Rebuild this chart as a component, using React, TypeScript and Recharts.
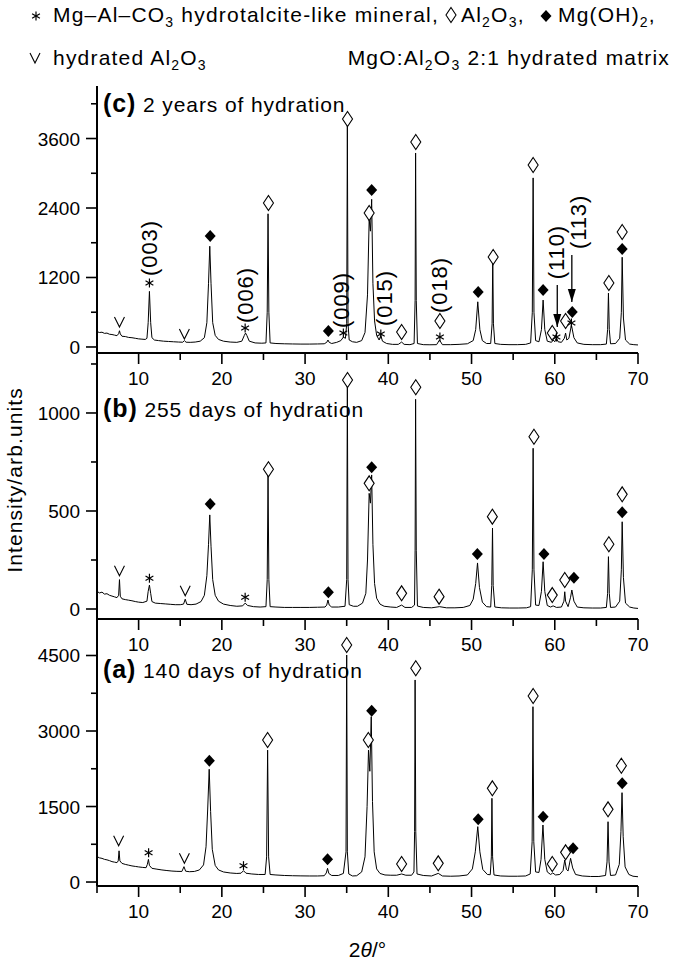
import React from 'react';
import { ComposedChart, Line, Scatter, XAxis, YAxis, ReferenceLine } from 'recharts';

const FONT = '"Liberation Sans", Arial, Helvetica, sans-serif';
const AXIS = { stroke: '#000', strokeWidth: 2 };

const X_TICKS = [5, 10, 15, 20, 25, 30, 35, 40, 45, 50, 55, 60, 65, 70];
const X_LABELLED = [10, 20, 30, 40, 50, 60, 70];

// ---- (c) 2 years of hydration ----
const yTicksC = [0, 600, 1200, 1800, 2400, 3000, 3600, 4200];
const yLabelsC = [0, 1200, 2400, 3600];
const traceC: [number, number][] = [
  [5.0, 265], [5.3, 250], [5.6, 255], [5.9, 235], [6.2, 240], [6.5, 220], [6.8, 215], [7.1, 205], [7.4, 195],
  [7.6, 230], [7.7, 280], [7.8, 225], [8.0, 185], [8.4, 180], [8.8, 165], [9.2, 160], [9.6, 150], [10.0, 140],
  [10.4, 135], [10.8, 130], [11.0, 150], [11.15, 420], [11.3, 960], [11.45, 420], [11.6, 160], [11.9, 120],
  [12.4, 110], [13.0, 100], [13.6, 95], [14.2, 90], [14.8, 85], [15.3, 82], [15.5, 110], [15.7, 82], [16.2, 80],
  [16.8, 85], [17.4, 100], [17.9, 160], [18.2, 420], [18.4, 1100], [18.55, 1740], [18.7, 1100], [18.9, 420],
  [19.2, 200], [19.6, 130], [20.2, 100], [21.0, 85], [21.8, 80], [22.4, 100], [22.7, 200], [22.85, 240],
  [23.0, 200], [23.3, 100], [24.0, 70], [24.8, 65], [25.3, 70], [25.45, 600], [25.55, 2300], [25.65, 600],
  [25.8, 70], [26.5, 60], [27.5, 55], [28.5, 52], [29.5, 50], [30.5, 50], [31.5, 52], [32.3, 55], [32.6, 80],
  [32.75, 120], [32.9, 80], [33.2, 60], [33.8, 80], [34.3, 110], [34.6, 170], [34.85, 150], [35.0, 400],
  [35.08, 3830], [35.16, 400], [35.3, 120], [35.7, 90], [36.2, 80], [36.8, 110], [37.2, 250], [37.5, 900],
  [37.7, 2200], [37.85, 2000], [38.0, 2550], [38.15, 1100], [38.35, 450], [38.6, 200], [38.9, 120], [39.1, 200],
  [39.3, 100], [39.8, 60], [40.5, 45], [41.2, 45], [41.6, 85], [41.9, 45], [42.6, 40], [43.1, 60], [43.22, 800],
  [43.28, 3350], [43.36, 800], [43.5, 60], [44.2, 40], [45.0, 38], [45.8, 40], [46.15, 120], [46.5, 40],
  [47.5, 40], [48.5, 45], [49.5, 55], [50.2, 110], [50.5, 300], [50.75, 780], [51.0, 300], [51.3, 110],
  [51.8, 60], [52.3, 60], [52.47, 400], [52.55, 1540], [52.63, 400], [52.8, 60], [53.5, 45], [54.5, 40],
  [55.5, 40], [56.5, 45], [57.1, 70], [57.3, 600], [57.4, 2920], [57.5, 600], [57.7, 110], [58.1, 90],
  [58.4, 300], [58.6, 810], [58.8, 300], [59.1, 100], [59.6, 80], [59.8, 120], [60.0, 90], [60.2, 160],
  [60.4, 90], [60.8, 80], [61.15, 150], [61.3, 240], [61.45, 120], [61.7, 150], [62.0, 380], [62.3, 160],
  [62.7, 70], [63.5, 45], [64.5, 40], [65.5, 40], [66.2, 50], [66.35, 300], [66.45, 930], [66.55, 300],
  [66.7, 55], [67.3, 60], [67.8, 150], [68.0, 600], [68.1, 1550], [68.25, 500], [68.5, 120], [69.0, 50],
  [69.5, 40], [70.0, 35],
];
const hollowC: [number, number][] = [
  [25.6, 2487], [35.1, 3938], [37.7, 2314], [41.6, 259], [43.3, 3540], [46.2, 449], [52.6, 1554], [57.4, 3143],
  [59.7, 242], [61.3, 449], [66.5, 1105], [68.1, 1986],
];
const filledC: [number, number][] = [
  [18.6, 1917], [32.8, 276], [38.0, 2711], [50.8, 950], [58.6, 984], [62.1, 604], [68.1, 1692],
];
const starsC: [number, number][] = [
  [11.3, 1105], [22.8, 328], [34.6, 242], [39.1, 224], [46.2, 173], [60.2, 173], [62.0, 414],
];
const veesC: [number, number][] = [[7.7, 414], [15.5, 207]];
const hklC = [
  { x: 11.3, y: 1710, label: '(003)' },
  { x: 22.9, y: 898, label: '(006)' },
  { x: 34.4, y: 812, label: '(009)' },
  { x: 39.6, y: 846, label: '(015)' },
  { x: 46.15, y: 1071, label: '(018)' },
  { x: 60.2, y: 1640, label: '(110)' },
  { x: 62.8, y: 2159, label: '(113)' },
];
const arrowsC = [
  { x: 60.3, from: 1070, to: 345 },
  { x: 62.05, from: 1590, to: 777 },
];

// ---- (b) 255 days of hydration ----
const yTicksB = [0, 250, 500, 750, 1000, 1250];
const yLabelsB = [0, 500, 1000];
const traceB: [number, number][] = [
  [5.0, 90], [5.3, 82], [5.6, 86], [5.9, 76], [6.2, 78], [6.5, 70], [6.8, 66], [7.1, 62], [7.4, 58], [7.6, 70],
  [7.7, 150], [7.8, 65], [8.0, 52], [8.4, 48], [8.8, 45], [9.2, 42], [9.6, 38], [10.0, 35], [10.5, 33],
  [11.0, 40], [11.15, 90], [11.3, 122], [11.45, 80], [11.6, 38], [12.0, 30], [12.6, 28], [13.2, 26], [13.8, 24],
  [14.4, 22], [15.0, 22], [15.4, 25], [15.6, 50], [15.8, 24], [16.3, 22], [16.9, 25], [17.5, 38], [17.9, 70],
  [18.2, 170], [18.4, 330], [18.55, 480], [18.7, 320], [18.9, 150], [19.2, 70], [19.6, 40], [20.2, 25],
  [21.0, 18], [21.8, 14], [22.5, 16], [22.8, 30], [23.1, 18], [23.8, 12], [24.6, 10], [25.3, 12], [25.45, 150],
  [25.55, 684], [25.65, 150], [25.8, 12], [26.5, 10], [27.5, 8], [28.5, 8], [29.5, 8], [30.5, 8], [31.5, 9],
  [32.4, 10], [32.6, 20], [32.75, 46], [32.9, 20], [33.2, 10], [34.0, 10], [34.8, 14], [35.0, 150], [35.08, 1150],
  [35.16, 150], [35.3, 22], [35.8, 14], [36.3, 14], [36.9, 30], [37.3, 80], [37.5, 250], [37.7, 590], [37.85, 540],
  [38.0, 684], [38.15, 330], [38.35, 130], [38.6, 55], [39.0, 25], [39.5, 14], [40.3, 10], [41.0, 8], [41.6, 20],
  [42.0, 8], [42.8, 8], [43.15, 20], [43.22, 300], [43.28, 1070], [43.36, 300], [43.5, 15], [44.2, 8], [45.2, 6],
  [46.15, 12], [47.0, 6], [48.0, 6], [49.0, 8], [49.8, 18], [50.2, 50], [50.5, 130], [50.72, 235], [50.95, 110],
  [51.3, 35], [51.8, 12], [52.3, 10], [52.43, 120], [52.52, 413], [52.6, 120], [52.8, 10], [53.6, 6], [54.6, 5],
  [55.6, 5], [56.6, 6], [57.1, 12], [57.3, 200], [57.4, 820], [57.5, 200], [57.7, 20], [58.1, 18], [58.4, 90],
  [58.6, 241], [58.8, 90], [59.1, 18], [59.5, 10], [59.8, 16], [60.2, 8], [60.8, 10], [61.1, 40], [61.2, 88],
  [61.3, 40], [61.6, 12], [61.9, 60], [62.05, 97], [62.3, 40], [62.7, 10], [63.5, 6], [64.5, 5], [65.5, 5],
  [66.2, 8], [66.35, 80], [66.45, 267], [66.55, 80], [66.7, 8], [67.3, 10], [67.8, 40], [68.0, 200], [68.1, 445],
  [68.25, 160], [68.5, 30], [69.0, 10], [69.5, 5], [70.0, 3],
];
const hollowB: [number, number][] = [
  [25.6, 713], [35.1, 1168], [37.7, 641], [41.6, 80], [43.3, 1131], [46.1, 63], [52.5, 471], [57.5, 879],
  [59.7, 71], [61.2, 148], [66.5, 330], [68.1, 585],
];
const filledB: [number, number][] = [
  [18.6, 536], [32.8, 85], [38.0, 723], [50.7, 281], [58.7, 281], [62.3, 160], [68.1, 493],
];
const starsB: [number, number][] = [[11.3, 157], [22.8, 60]];
const veesB: [number, number][] = [[7.7, 190], [15.6, 88]];

// ---- (a) 140 days of hydration ----
const yTicksA = [0, 750, 1500, 2250, 3000, 3750, 4500];
const yLabelsA = [0, 1500, 3000, 4500];
const traceA: [number, number][] = [
  [5.0, 505], [5.3, 480], [5.6, 470], [5.9, 450], [6.2, 440], [6.5, 425], [6.8, 405], [7.1, 395], [7.4, 385],
  [7.55, 420], [7.65, 620], [7.75, 420], [8.0, 370], [8.4, 350], [8.8, 335], [9.2, 320], [9.6, 310], [10.0, 300],
  [10.5, 290], [10.9, 285], [11.05, 350], [11.18, 450], [11.3, 330], [11.6, 272], [12.2, 255], [12.8, 240],
  [13.4, 228], [14.0, 218], [14.6, 212], [15.2, 210], [15.45, 305], [15.65, 215], [16.1, 205], [16.7, 210],
  [17.3, 240], [17.8, 340], [18.1, 700], [18.3, 1450], [18.48, 2240], [18.65, 1400], [18.85, 650], [19.2, 330],
  [19.6, 240], [20.2, 200], [21.0, 180], [21.8, 170], [22.3, 175], [22.6, 225], [22.9, 175], [23.6, 160],
  [24.4, 150], [25.2, 150], [25.38, 500], [25.5, 2620], [25.62, 500], [25.8, 150], [26.5, 140], [27.5, 130],
  [28.5, 125], [29.5, 122], [30.5, 120], [31.5, 120], [32.3, 125], [32.55, 180], [32.7, 272], [32.85, 170],
  [33.2, 130], [34.0, 130], [34.6, 170], [34.92, 600], [35.0, 4510], [35.08, 600], [35.25, 160], [35.7, 120],
  [36.2, 125], [36.8, 200], [37.2, 500], [37.45, 1500], [37.62, 2620], [37.78, 2200], [37.95, 3285], [38.1, 1600],
  [38.3, 600], [38.6, 260], [39.0, 170], [39.6, 140], [40.3, 135], [41.0, 135], [41.6, 160], [42.1, 135],
  [42.8, 135], [43.08, 200], [43.16, 1000], [43.22, 4014], [43.3, 1000], [43.45, 160], [44.2, 130], [45.2, 120],
  [46.0, 172], [46.5, 120], [47.5, 115], [48.5, 120], [49.5, 140], [50.1, 260], [50.45, 600], [50.75, 1100],
  [51.0, 600], [51.35, 250], [51.9, 150], [52.25, 145], [52.38, 500], [52.45, 1663], [52.53, 500], [52.7, 140],
  [53.5, 120], [54.5, 115], [55.5, 115], [56.5, 120], [57.05, 160], [57.28, 800], [57.38, 3483], [57.48, 800],
  [57.7, 200], [58.1, 190], [58.35, 450], [58.58, 1133], [58.8, 450], [59.1, 200], [59.5, 150], [59.75, 180],
  [60.1, 140], [60.6, 150], [61.0, 230], [61.2, 437], [61.4, 250], [61.6, 220], [61.9, 471], [62.15, 280],
  [62.5, 150], [63.3, 120], [64.3, 110], [65.3, 110], [66.1, 130], [66.28, 400], [66.4, 1198], [66.52, 400],
  [66.7, 130], [67.3, 140], [67.75, 350], [67.95, 1000], [68.08, 1775], [68.22, 900], [68.45, 300], [68.9, 150],
  [69.4, 115], [70.0, 105],
];
const hollowA: [number, number][] = [
  [25.5, 2822], [35.0, 4709], [37.6, 2822], [41.6, 358], [43.3, 4246], [46.0, 371], [52.5, 1861], [57.4, 3696],
  [59.7, 358], [61.3, 590], [66.4, 1444], [68.0, 2311],
];
const filledA: [number, number][] = [
  [18.5, 2411], [32.7, 450], [38.0, 3404], [50.8, 1245], [58.6, 1298], [62.2, 669], [68.1, 1961],
];
const starsA: [number, number][] = [[11.2, 583], [22.6, 325]];
const veesA: [number, number][] = [[7.6, 801], [15.5, 450]];

const toXY = (arr: [number, number][]) => arr.map(([x, y]) => ({ x, y }));

// ---- marker shapes ----
function HollowDiamond({ cx, cy }: any) {
  return <polygon points={`${cx},${cy - 7.5} ${cx + 5},${cy} ${cx},${cy + 7.5} ${cx - 5},${cy}`} fill="#fff" stroke="#000" strokeWidth={1.1} />;
}
function FilledDiamond({ cx, cy }: any) {
  return <polygon points={`${cx},${cy - 6} ${cx + 5.5},${cy} ${cx},${cy + 6} ${cx - 5.5},${cy}`} fill="#000" />;
}
function Star({ cx, cy }: any) {
  const r = 4.5;
  return (
    <g stroke="#000" strokeWidth={1.2}>
      <line x1={cx} y1={cy - r} x2={cx} y2={cy + r} />
      <line x1={cx - r * 0.87} y1={cy - r * 0.5} x2={cx + r * 0.87} y2={cy + r * 0.5} />
      <line x1={cx - r * 0.87} y1={cy + r * 0.5} x2={cx + r * 0.87} y2={cy - r * 0.5} />
    </g>
  );
}
function Vee({ cx, cy }: any) {
  return <polyline points={`${cx - 5},${cy - 6} ${cx},${cy + 4} ${cx + 5},${cy - 6}`} fill="none" stroke="#000" strokeWidth={1.1} />;
}
function ArrowHead({ cx, cy }: any) {
  return <polygon points={`${cx},${cy} ${cx - 4},${cy - 13} ${cx + 4},${cy - 13}`} fill="#000" />;
}
function HklLabel({ cx, cy, payload }: any) {
  return (
    <text x={cx} y={cy} transform={`rotate(-90 ${cx} ${cy})`} textAnchor="middle" dominantBaseline="central"
      fontFamily={FONT} fontSize={22} letterSpacing={0.9} fill="#000">
      {payload.label}
    </text>
  );
}

// ---- ticks ----
function XTick({ x, y, payload }: any) {
  const major = X_LABELLED.includes(payload.value);
  return (
    <g>
      <line x1={x} x2={x} y1={y} y2={y + (major ? 11 : 7)} stroke="#000" strokeWidth={1.6} />
      {major && (
        <text x={x} y={y + 32} textAnchor="middle" fontFamily={FONT} fontSize={19} fill="#000">
          {payload.value}
        </text>
      )}
    </g>
  );
}
function YTick({ x, y, payload, labelled }: any) {
  const major = labelled.includes(payload.value);
  return (
    <g>
      <line x1={x - (major ? 11 : 6)} x2={x} y1={y} y2={y} stroke="#000" strokeWidth={1.6} />
      {major && (
        <text x={x - 17} y={y + 7} textAnchor="end" fontFamily={FONT} fontSize={19} fill="#000">
          {payload.value}
        </text>
      )}
    </g>
  );
}
function XTitle({ viewBox }: any) {
  const cx = viewBox.x + viewBox.width / 2;
  return (
    <text x={cx} y={viewBox.y + 71} textAnchor="middle" fontFamily={FONT} fontSize={21} fill="#000">
      2<tspan fontStyle="italic">θ</tspan>/°
    </text>
  );
}

interface PanelProps {
  top: number;
  plotHeight: number;
  xAxisHeight: number;
  domain: [number, number];
  trace: [number, number][];
  hollow: [number, number][];
  filled: [number, number][];
  stars: [number, number][];
  vees: [number, number][];
  yTicks: number[];
  yLabels: number[];
  topBorder?: boolean;
  hkl?: { x: number; y: number; label: string }[];
  arrows?: { x: number; from: number; to: number }[];
  xTitle?: boolean;
}

function Panel({ top, plotHeight, xAxisHeight, domain, trace, hollow, filled, stars, vees, yTicks, yLabels, topBorder, hkl, arrows, xTitle }: PanelProps) {
  const ids = { xAxisId: 'b', yAxisId: 'l' };
  return (
    <div style={{ position: 'absolute', left: 0, top: top - 10 }}>
      <ComposedChart width={685} height={10 + plotHeight + xAxisHeight} margin={{ top: 10, right: 47, bottom: 0, left: 0 }}>
        <XAxis xAxisId="b" type="number" dataKey="x" domain={[5, 70]} allowDataOverflow ticks={X_TICKS} interval={0}
          tickLine={false} tickSize={0} tickMargin={0} tick={(p: any) => <XTick {...p} />} axisLine={AXIS} height={xAxisHeight}
          label={xTitle ? { content: (p: any) => <XTitle {...p} /> } : undefined} />
        {topBorder && (
          <XAxis xAxisId="t" orientation="top" type="number" domain={[5, 70]} tick={false} tickLine={false} axisLine={AXIS} height={0} />
        )}
        <YAxis yAxisId="l" type="number" dataKey="y" domain={domain} allowDataOverflow ticks={yTicks} interval={0}
          tickLine={false} tickSize={0} tickMargin={0} tick={(p: any) => <YTick {...p} labelled={yLabels} />} axisLine={AXIS} width={97} />
        <YAxis yAxisId="r" orientation="right" type="number" domain={[0, 1]} tick={false} tickLine={false} axisLine={AXIS} width={0} />
        <Line {...ids} data={toXY(trace)} dataKey="y" type="linear" stroke="#000" strokeWidth={1} dot={false} isAnimationActive={false} />
        {(arrows || []).map((a, i) => (
          <ReferenceLine key={`ar${i}`} {...ids} segment={[{ x: a.x, y: a.from }, { x: a.x, y: a.to }]} stroke="#000" strokeWidth={1.3} />
        ))}
        {arrows && (
          <Scatter {...ids} data={arrows.map((a) => ({ x: a.x, y: a.to }))} dataKey="y" shape={(p: any) => <ArrowHead {...p} />} isAnimationActive={false} />
        )}
        <Scatter {...ids} data={toXY(hollow)} dataKey="y" shape={(p: any) => <HollowDiamond {...p} />} isAnimationActive={false} />
        <Scatter {...ids} data={toXY(filled)} dataKey="y" shape={(p: any) => <FilledDiamond {...p} />} isAnimationActive={false} />
        <Scatter {...ids} data={toXY(stars)} dataKey="y" shape={(p: any) => <Star {...p} />} isAnimationActive={false} />
        <Scatter {...ids} data={toXY(vees)} dataKey="y" shape={(p: any) => <Vee {...p} />} isAnimationActive={false} />
        {hkl && (
          <Scatter {...ids} data={hkl} dataKey="y" shape={(p: any) => <HklLabel {...p} />} isAnimationActive={false} />
        )}
      </ComposedChart>
    </div>
  );
}

function PanelTitle({ y, tag, text }: { y: number; tag: string; text: string }) {
  return (
    <text x={103} y={y} fontFamily={FONT} fontSize={21} letterSpacing={0.9} fill="#000">
      <tspan fontWeight="bold" fontSize={25}>{tag}</tspan>
      <tspan> {text}</tspan>
    </text>
  );
}

function Sub({ children }: { children: React.ReactNode }) {
  return <tspan fontSize={14} dy={5}>{children}</tspan>;
}
function Up({ children }: { children: React.ReactNode }) {
  return <tspan dy={-5}>{children}</tspan>;
}

export default function App() {
  const txt = { fontFamily: FONT, fontSize: 21, letterSpacing: 1.2, fill: '#000' };
  return (
    <div style={{ position: 'absolute', left: 0, top: 0, width: 685, height: 965, background: '#fff', overflow: 'hidden' }}>
      <Panel top={86} plotHeight={267} xAxisHeight={50} domain={[-104, 4507]} trace={traceC} hollow={hollowC} filled={filledC}
        stars={starsC} vees={veesC} yTicks={yTicksC} yLabels={yLabelsC} topBorder hkl={hklC} arrows={arrowsC} />
      <Panel top={353} plotHeight={266} xAxisHeight={50} domain={[-51, 1306]} trace={traceB} hollow={hollowB} filled={filledB}
        stars={starsB} vees={veesB} yTicks={yTicksB} yLabels={yLabelsB} />
      <Panel top={619} plotHeight={267} xAxisHeight={80} domain={[-79, 5225]} trace={traceA} hollow={hollowA} filled={filledA}
        stars={starsA} vees={veesA} yTicks={yTicksA} yLabels={yLabelsA} xTitle />
      <svg width={685} height={965} style={{ position: 'absolute', left: 0, top: 0, pointerEvents: 'none' }}>
        <Star cx={36} cy={16} />
        <text x={53} y={22} {...txt}>Mg–Al–CO<Sub>3</Sub><Up> hydrotalcite-like mineral,</Up></text>
        <HollowDiamond cx={451} cy={15} />
        <text x={461} y={22} {...txt}>Al<Sub>2</Sub><Up>O</Up><Sub>3</Sub><Up>,</Up></text>
        <FilledDiamond cx={546} cy={16} />
        <text x={558} y={22} {...txt}>Mg(OH)<Sub>2</Sub><Up>,</Up></text>
        <Vee cx={35} cy={59} />
        <text x={53} y={65} {...txt}>hydrated Al<Sub>2</Sub><Up>O</Up><Sub>3</Sub></text>
        <text x={670} y={65} textAnchor="end" {...txt}>MgO:Al<Sub>2</Sub><Up>O</Up><Sub>3</Sub><Up> 2:1 hydrated matrix</Up></text>
        <text x={22} y={480} transform="rotate(-90 22 480)" textAnchor="middle" fontFamily={FONT} fontSize={21} letterSpacing={1.1} fill="#000">
          Intensity/arb.units
        </text>
        <PanelTitle y={112} tag="(c)" text="2 years of hydration" />
        <PanelTitle y={417} tag="(b)" text="255 days of hydration" />
        <PanelTitle y={678} tag="(a)" text="140 days of hydration" />
      </svg>
    </div>
  );
}
